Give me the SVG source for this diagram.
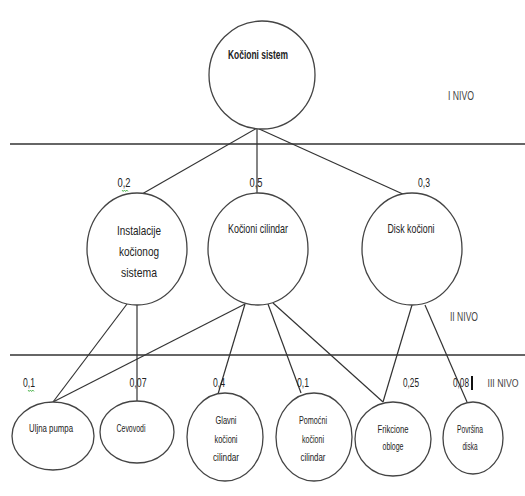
<svg xmlns="http://www.w3.org/2000/svg" width="525" height="496" viewBox="0 0 525 496">
<style>
.n{fill:#fff;stroke:#444;stroke-width:1.3}
.t{font-family:"Liberation Sans Narrow","Liberation Sans",Arial,sans-serif;fill:#222;text-anchor:middle}
.t2{font-size:13px}
.t3{font-size:11px}
.lb{font-size:12px}
.lv{font-size:12px;fill:#444}
.c{stroke:#333;stroke-width:1.2;fill:none}
.h{stroke:#666;stroke-width:2.2}
.sq{stroke:#3a3;stroke-width:0.8;fill:none}
</style>
<rect width="525" height="496" fill="#fff"/>
<g id="levels">
<line class="h" x1="10" y1="144" x2="525" y2="144"/>
<line class="h" x1="10" y1="355" x2="525" y2="355"/>
<text class="t lv" x="461" y="100" textLength="26" lengthAdjust="spacingAndGlyphs">I NIVO</text>
<text class="t lv" x="464" y="321" textLength="28" lengthAdjust="spacingAndGlyphs">II NIVO</text>
<text class="t lv" x="503" y="387" font-size="10" style="font-size:10px" textLength="31" lengthAdjust="spacingAndGlyphs">III NIVO</text>
</g>
<g id="connectors">
<line class="c" x1="257" y1="128" x2="142" y2="194"/>
<line class="c" x1="257" y1="128" x2="257" y2="194"/>
<line class="c" x1="257" y1="128" x2="405" y2="195"/>
<line class="c" x1="127" y1="304" x2="53" y2="402"/>
<line class="c" x1="137" y1="305" x2="137" y2="402"/>
<line class="c" x1="245" y1="304" x2="53" y2="402"/>
<line class="c" x1="245" y1="304" x2="218" y2="394"/>
<line class="c" x1="268" y1="304" x2="301" y2="393"/>
<line class="c" x1="273" y1="303" x2="383" y2="402"/>
<line class="c" x1="412" y1="305" x2="383" y2="402"/>
<line class="c" x1="425" y1="305" x2="467" y2="402"/>
</g>
<g id="weights">
<text class="t lb" x="124" y="187" textLength="13" lengthAdjust="spacingAndGlyphs">0,2</text>
<path class="sq" d="M122,190 l1.2,1.5 l1.2,-1.5 l1.2,1.5 l1.2,-1.5 l1.2,1.5"/>
<text class="t lb" x="256" y="187" textLength="13" lengthAdjust="spacingAndGlyphs">0,5</text>
<text class="t lb" x="424" y="187" textLength="12" lengthAdjust="spacingAndGlyphs">0,3</text>
<text class="t lb" x="29" y="387" textLength="12" lengthAdjust="spacingAndGlyphs">0,1</text>
<path class="sq" d="M28,390 l1.2,1.5 l1.2,-1.5 l1.2,1.5 l1.2,-1.5 l1.2,1.5"/>
<text class="t lb" x="138" y="387" textLength="17" lengthAdjust="spacingAndGlyphs">0,07</text>
<text class="t lb" x="219" y="387" textLength="12" lengthAdjust="spacingAndGlyphs">0,4</text>
<text class="t lb" x="303" y="387" textLength="12" lengthAdjust="spacingAndGlyphs">0,1</text>
<text class="t lb" x="411" y="387" textLength="16" lengthAdjust="spacingAndGlyphs">0,25</text>
<text class="t lb" x="461" y="387" textLength="16" lengthAdjust="spacingAndGlyphs">0,08</text>
<rect x="471" y="376" width="2" height="14" fill="#111"/>
</g>
<g id="n-kocioni-sistem">
<ellipse class="n" cx="262" cy="75" rx="53" ry="54"/>
<text class="t t2" x="258" y="59" font-weight="bold" textLength="60" lengthAdjust="spacingAndGlyphs">Kočioni sistem</text>
</g>
<g id="n-instalacije">
<ellipse class="n" cx="137" cy="249" rx="50" ry="56"/>
<text class="t t2" x="139" y="235" textLength="44" lengthAdjust="spacingAndGlyphs">Instalacije</text>
<text class="t t2" x="139" y="256" textLength="40" lengthAdjust="spacingAndGlyphs">kočionog</text>
<text class="t t2" x="139" y="277" textLength="36" lengthAdjust="spacingAndGlyphs">sistema</text>
</g>
<g id="n-kocioni-cilindar">
<ellipse class="n" cx="258" cy="249" rx="50" ry="56"/>
<text class="t t2" x="258" y="233" textLength="60" lengthAdjust="spacingAndGlyphs">Kočioni cilindar</text>
</g>
<g id="n-disk-kocioni">
<ellipse class="n" cx="412" cy="249" rx="50" ry="56"/>
<text class="t t2" x="411" y="233" textLength="47" lengthAdjust="spacingAndGlyphs">Disk kočioni</text>
</g>
<g id="n-uljna-pumpa">
<ellipse class="n" cx="53" cy="436" rx="41" ry="34"/>
<text class="t t3" x="51" y="432" textLength="44" lengthAdjust="spacingAndGlyphs">Uljna pumpa</text>
</g>
<g id="n-cevovodi">
<ellipse class="n" cx="137" cy="432" rx="37" ry="31"/>
<text class="t t3" x="131" y="432" textLength="29" lengthAdjust="spacingAndGlyphs">Cevovodi</text>
</g>
<g id="n-glavni">
<ellipse class="n" cx="225" cy="437" rx="38" ry="44"/>
<text class="t t3" x="226" y="424" textLength="21" lengthAdjust="spacingAndGlyphs">Glavni</text>
<text class="t t3" x="226" y="443" textLength="23" lengthAdjust="spacingAndGlyphs">kočioni</text>
<text class="t t3" x="226" y="461" textLength="26" lengthAdjust="spacingAndGlyphs">cilindar</text>
</g>
<g id="n-pomocni">
<ellipse class="n" cx="314" cy="437" rx="38" ry="44"/>
<text class="t t3" x="313" y="424" textLength="28" lengthAdjust="spacingAndGlyphs">Pomoćni</text>
<text class="t t3" x="313" y="443" textLength="22" lengthAdjust="spacingAndGlyphs">kočioni</text>
<text class="t t3" x="313" y="461" textLength="25" lengthAdjust="spacingAndGlyphs">cilindar</text>
</g>
<g id="n-frikcione">
<ellipse class="n" cx="393" cy="439" rx="38" ry="37"/>
<text class="t t3" x="393" y="433" textLength="31" lengthAdjust="spacingAndGlyphs">Frikcione</text>
<text class="t t3" x="393" y="450" textLength="21" lengthAdjust="spacingAndGlyphs">obloge</text>
</g>
<g id="n-povrsina">
<ellipse class="n" cx="473" cy="438" rx="30" ry="36"/>
<text class="t t3" x="470" y="433" textLength="26" lengthAdjust="spacingAndGlyphs">Površina</text>
<text class="t t3" x="470" y="450" textLength="15" lengthAdjust="spacingAndGlyphs">diska</text>
</g>
</svg>
